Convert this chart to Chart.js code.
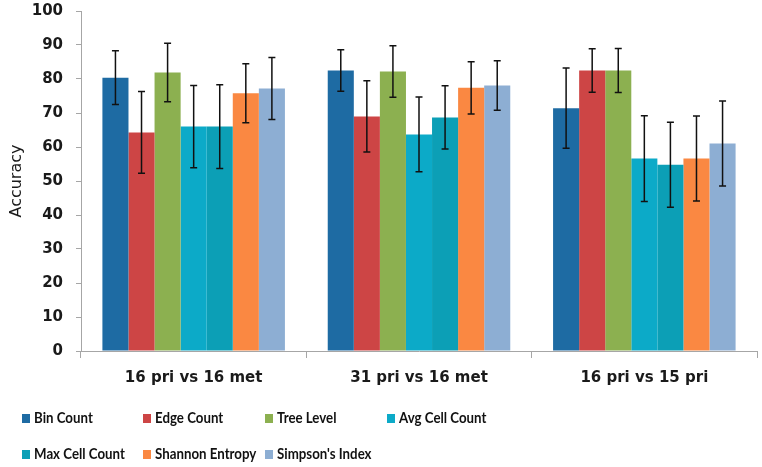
<!DOCTYPE html>
<html>
<head>
<meta charset="utf-8">
<script src="https://cdn.jsdelivr.net/npm/chart.js@4/dist/chart.umd.min.js"></script>
<style>
  body { margin: 0; background: #fff; }
  #wrap { position: relative; width: 762px; height: 467px; }
  #legend { position: absolute; left: 0; top: 0; width: 762px; height: 467px; pointer-events: none;
    font-family: Lato, "DejaVu Sans", sans-serif; font-weight: bold; font-size: 16px; color: #111; }
  .item { position: absolute; white-space: nowrap; line-height: 18px; }
  .item span.box { display: inline-block; width: 8px; height: 9px; margin-right: 4px; vertical-align: 0px; }
  .item span.txt { display: inline-block; transform: scaleX(0.83); transform-origin: left center; }
</style>
</head>
<body>
<div id="wrap">
  <canvas id="chart" width="762" height="467"></canvas>
  <div id="legend"></div>
</div>
<script>
// Data
const categories = ['16 pri vs 16 met', '31 pri vs 16 met', '16 pri vs 15 pri'];
const seriesNames = ['Bin Count', 'Edge Count', 'Tree Level', 'Avg Cell Count', 'Max Cell Count', 'Shannon Entropy', "Simpson's Index"];
const seriesColors = ['#1e6ba3', '#cd4545', '#8cb050', '#0caac8', '#0c9fb6', '#fa8842', '#8daed3'];

const binCount = [80.4, 82.5, 71.4];
const edgeCount = [64.3, 69.0, 82.5];
const treeLevel = [81.9, 82.2, 82.5];
const avgCellCount = [66.0, 63.7, 56.6];
const maxCellCount = [66.0, 68.7, 54.8];
const shannonEntropy = [75.8, 77.4, 56.6];
const simpsonsIndex = [77.2, 78.1, 61.0];

// error bar half-widths (+/-)
const binCountErr = [7.9, 6.1, 11.8];
const edgeCountErr = [12.0, 10.5, 6.4];
const treeLevelErr = [8.6, 7.6, 6.5];
const avgCellCountErr = [12.1, 11.0, 12.6];
const maxCellCountErr = [12.3, 9.3, 12.5];
const shannonEntropyErr = [8.7, 7.7, 12.5];
const simpsonsIndexErr = [9.1, 7.3, 12.5];

const yTicks = [0, 10, 20, 30, 40, 50, 60, 70, 80, 90, 100];

const values = [binCount, edgeCount, treeLevel, avgCellCount, maxCellCount, shannonEntropy, simpsonsIndex];
const errors = [binCountErr, edgeCountErr, treeLevelErr, avgCellCountErr, maxCellCountErr, shannonEntropyErr, simpsonsIndexErr];

// Error bars drawn from the scales
const errorBarPlugin = {
  id: 'errorBars',
  afterDatasetsDraw(chart) {
    const ctx = chart.ctx;
    const y = chart.scales.y;
    ctx.save();
    ctx.strokeStyle = '#111';
    ctx.lineWidth = 1.5;
    chart.data.datasets.forEach((ds, i) => {
      const meta = chart.getDatasetMeta(i);
      meta.data.forEach((bar, j) => {
        const v = ds.data[j], e = ds.errorBars[j];
        const top = y.getPixelForValue(v + e);
        const bot = y.getPixelForValue(v - e);
        const cap = 3.5;
        ctx.beginPath();
        ctx.moveTo(bar.x, top); ctx.lineTo(bar.x, bot);
        ctx.moveTo(bar.x - cap, top); ctx.lineTo(bar.x + cap, top);
        ctx.moveTo(bar.x - cap, bot); ctx.lineTo(bar.x + cap, bot);
        ctx.stroke();
      });
    });
    ctx.restore();
  }
};

const tickFont = { family: '"DejaVu Sans", sans-serif', weight: 'bold', size: 15 };

new Chart(document.getElementById('chart'), {
  type: 'bar',
  data: {
    labels: categories,
    datasets: seriesNames.map((name, i) => ({
      label: name,
      data: values[i],
      errorBars: errors[i],
      backgroundColor: seriesColors[i],
      borderWidth: 0,
      categoryPercentage: 0.81,
      barPercentage: 1.0
    }))
  },
  options: {
    responsive: false,
    animation: false,
    layout: { padding: { top: 11, right: 5, left: 0, bottom: 0 } },
    plugins: {
      legend: { display: false },
      tooltip: { enabled: false }
    },
    scales: {
      x: {
        afterFit: s => { s.height = 116; },
        grid: { drawOnChartArea: false, tickLength: 7, color: '#a6a6a6' },
        border: { color: '#a6a6a6' },
        ticks: { font: tickFont, color: '#1a1a1a', padding: 11 }
      },
      y: {
        min: 0,
        max: 100,
        afterFit: s => { s.width = 81; s.paddingTop = 0; s.paddingBottom = 0; },
        afterBuildTicks: s => { s.ticks = yTicks.map(v => ({ value: v })); },
        grid: { drawOnChartArea: false, tickLength: 5, color: '#a6a6a6' },
        border: { color: '#a6a6a6' },
        ticks: { font: tickFont, color: '#1a1a1a', padding: 13 },
        title: {
          display: true,
          text: 'Accuracy',
          font: { family: '"DejaVu Sans", sans-serif', size: 16 },
          color: '#1a1a1a',
          padding: { top: 7, bottom: 0 }
        }
      }
    }
  },
  plugins: [errorBarPlugin]
});

// Legend in fixed columns, like the original
const legendCols = [22, 143, 265, 387];
const legendRows = [417, 453];
const legend = document.getElementById('legend');
seriesNames.forEach((name, i) => {
  const el = document.createElement('div');
  el.className = 'item';
  el.style.left = legendCols[i % 4] + 'px';
  el.style.top = (legendRows[Math.floor(i / 4)] - 9) + 'px';
  el.innerHTML = '<span class="box" style="background:' + seriesColors[i] + '"></span><span class="txt">' + name + '</span>';
  legend.appendChild(el);
});
</script>
</body>
</html>
